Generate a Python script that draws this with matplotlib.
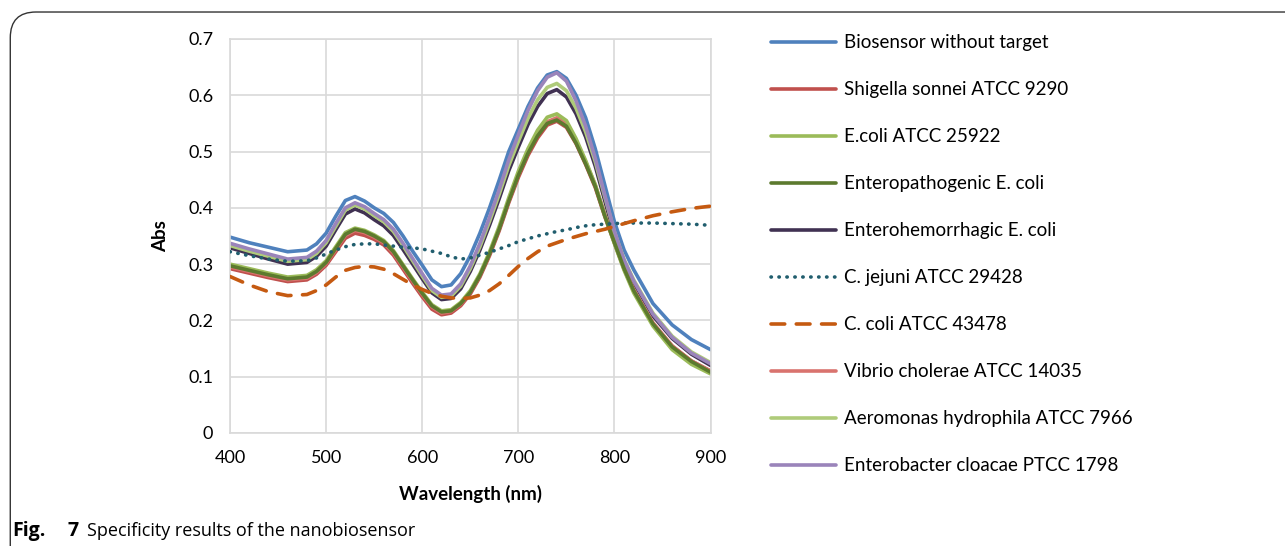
import matplotlib
matplotlib.use('Agg')
import matplotlib.pyplot as plt
from matplotlib.patches import FancyBboxPatch

plt.rcParams['font.family'] = ['Lato', 'DejaVu Sans']

# ---------------- data ----------------
wavelength = [400, 420, 440, 460, 480, 490, 500, 510, 520, 530, 540, 550, 560, 570, 580, 590,
              600, 610, 620, 630, 640, 650, 660, 670, 680, 690, 700, 710, 720, 730, 740,
              750, 760, 770, 780, 790, 800, 810, 820, 840, 860, 880, 900]

biosensor = [.348, .338, .330, .322, .325, .336, .355, .385, .413, .420, .412, .400, .390, .374, .350, .323,
             .298, .272, .260, .263, .283, .315, .355, .400, .449, .500, .540, .580, .613, .636, .642,
             .630, .600, .560, .505, .440, .375, .325, .290, .230, .192, .166, .148]
shigella = [.292, .284, .276, .269, .272, .282, .298, .322, .346, .355, .351, .344, .334, .316, .291, .266,
            .242, .220, .210, .213, .226, .247, .277, .315, .359, .409, .454, .493, .524, .547, .554,
            .543, .514, .477, .436, .384, .337, .291, .252, .194, .154, .128, .110]
ecoli = [.300, .292, .284, .277, .280, .290, .306, .331, .356, .364, .360, .352, .342, .324, .299, .274,
         .250, .228, .217, .219, .232, .253, .283, .322, .367, .418, .465, .505, .538, .561, .567,
         .555, .523, .484, .441, .386, .336, .289, .249, .190, .148, .122, .105]
epec = [.297, .289, .281, .274, .277, .287, .303, .328, .353, .362, .358, .350, .340, .322, .297, .272,
        .248, .226, .215, .217, .230, .250, .280, .318, .362, .412, .458, .497, .528, .550, .556,
        .545, .515, .478, .438, .385, .338, .292, .253, .194, .153, .127, .108]
ehec = [.329, .319, .309, .300, .303, .314, .332, .361, .389, .398, .391, .379, .368, .351, .326, .300,
        .274, .249, .237, .239, .256, .287, .325, .369, .416, .466, .508, .548, .580, .603, .610,
        .597, .567, .526, .474, .412, .351, .303, .267, .208, .168, .140, .120]
jejuni = [.322, .315, .309, .305, .306, .311, .318, .325, .331, .335, .336, .336, .334, .332, .330, .329,
          .327, .323, .319, .313, .309, .311, .316, .321, .327, .333, .340, .345, .350, .354, .358,
          .361, .365, .368, .370, .371, .372, .373, .373, .373, .372, .371, .369]
ccoli = [.278, .263, .251, .244, .246, .253, .263, .277, .289, .294, .296, .295, .291, .283, .273, .263,
         .255, .248, .243, .240, .239, .240, .245, .253, .265, .280, .296, .310, .322, .332, .338,
         .344, .349, .354, .358, .362, .367, .372, .377, .386, .393, .399, .403]
vibrio = [.295, .287, .279, .272, .275, .285, .301, .326, .351, .360, .356, .348, .338, .320, .295, .270,
          .246, .224, .213, .216, .229, .250, .280, .318, .362, .412, .458, .498, .530, .553, .560,
          .549, .519, .482, .441, .388, .340, .294, .255, .196, .155, .128, .110]
aeromonas = [.333, .323, .314, .305, .308, .319, .338, .367, .396, .405, .398, .386, .375, .358, .333, .306,
             .279, .253, .241, .243, .261, .292, .331, .376, .424, .475, .518, .559, .592, .614, .621,
             .608, .577, .535, .482, .419, .357, .308, .272, .213, .172, .144, .125]
enterobacter = [.337, .327, .318, .309, .312, .323, .342, .372, .400, .409, .402, .390, .379, .362, .337, .310,
                .283, .257, .245, .247, .265, .297, .337, .383, .432, .485, .530, .573, .608, .632, .640,
                .625, .590, .545, .488, .422, .358, .307, .270, .211, .170, .142, .123]

labels = ['Biosensor without target', 'Shigella sonnei ATCC 9290', 'E.coli ATCC 25922',
          'Enteropathogenic E. coli', 'Enterohemorrhagic E. coli', 'C. jejuni ATCC 29428',
          'C. coli ATCC 43478', 'Vibrio cholerae ATCC 14035', 'Aeromonas hydrophila ATCC 7966',
          'Enterobacter cloacae PTCC 1798']
series = [biosensor, shigella, ecoli, epec, ehec, jejuni, ccoli, vibrio, aeromonas, enterobacter]
colors = ['#4F81BD', '#C0504D', '#9BBB59', '#5C7A2E', '#403152', '#215E6E', '#C55A11',
          '#D9736E', '#AFCB7A', '#9A84BA']
styles = ['-', '-', '-', '-', '-', (0, (0.1, 2.1)), (0, (3.8, 3.2)), '-', '-', '-']
# dark green sits on top of the lower bundle in the original
zorders = [2, 2, 2.2, 2.5, 2, 2.6, 2.6, 2.1, 2.3, 2.4]

# ---------------- figure ----------------
fig = plt.figure(figsize=(12.85, 5.46), dpi=100)
ax = fig.add_axes([0.179, 0.207, 0.374, 0.7216])

for y, lab, c, ls, z in zip(series, labels, colors, styles, zorders):
    ax.plot(wavelength, y, color=c, lw=2.6, ls=ls, label=lab, zorder=z,
            solid_capstyle='round', solid_joinstyle='round', dash_capstyle='round')

ax.set_xlim(400, 900)
ax.set_ylim(0, 0.7)
ax.set_xticks([400, 500, 600, 700, 800, 900])
ax.set_yticks([0, 0.1, 0.2, 0.3, 0.4, 0.5, 0.6, 0.7])
ax.set_yticklabels(['0', '0.1', '0.2', '0.3', '0.4', '0.5', '0.6', '0.7'])
ax.grid(True, color='#D9D9D9', lw=1.2)
ax.set_axisbelow(True)
for s in ax.spines.values():
    s.set_color('#D9D9D9'); s.set_linewidth(1.2)
ax.tick_params(length=0, labelsize=13, pad=12)
ax.set_xlabel('Wavelength (nm)', fontsize=13.5, fontweight='bold', labelpad=14)
ax.set_ylabel('Abs', fontsize=13.5, fontweight='bold', labelpad=14)

leg = ax.legend(loc='upper left', bbox_to_anchor=(1.09, 1.055), frameon=False,
                fontsize=13.5, handlelength=3.47, handletextpad=0.43, labelspacing=1.6)

# rounded frame and caption
fig.patches.append(FancyBboxPatch((0.008, -0.2), 1.2, 1.178, boxstyle='round,pad=0,rounding_size=0.02',
                                  transform=fig.transFigure, fill=False, ec='#333333', lw=1.0,
                                  mutation_aspect=1285/546))
fig.text(0.0093, 0.019, 'Fig.', fontsize=14, fontweight='bold', family='Open Sans')
fig.text(0.0525, 0.019, '7', fontsize=14, fontweight='bold', family='Open Sans')
fig.text(0.0677, 0.019, 'Specificity results of the nanobiosensor', fontsize=13, family='Open Sans')

fig.savefig('out.png', dpi=100, facecolor='white')
